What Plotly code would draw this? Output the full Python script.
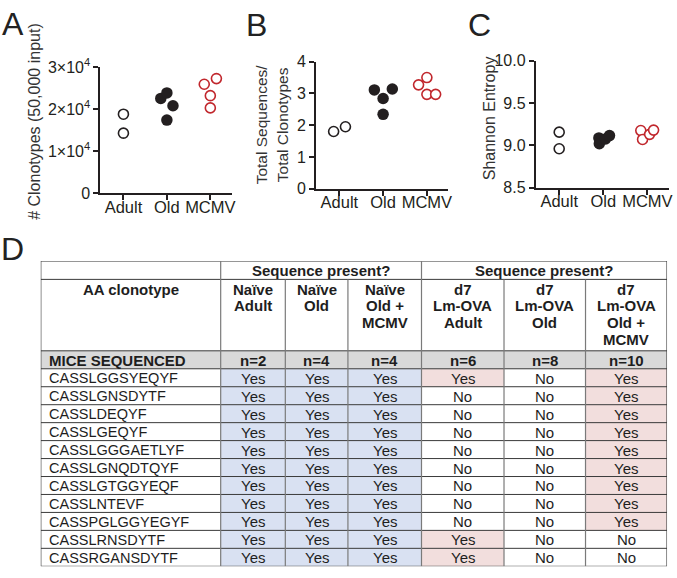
import plotly.graph_objects as go

# ---------------- data ----------------
categories = ["Adult", "Old", "MCMV"]

# Panel A: # clonotypes (50,000 input)
a_adult = [18800, 14300]
a_old = [22550, 23850, 20800, 17400]
a_mcmv = [25900, 27250, 23200, 20300]
a_adult_dx = [0.0, 0.0]
a_old_dx = [-0.14, 0.0, 0.14, 0.0]
a_mcmv_dx = [-0.14, 0.14, 0.0, 0.0]
a_tickvals = [0, 10000, 20000, 30000]
a_ticktext = ["0", "1×10<sup>4</sup>", "2×10<sup>4</sup>", "3×10<sup>4</sup>"]

# Panel B: total sequences / total clonotypes
b_adult = [1.80, 1.95]
b_old = [3.11, 3.14, 2.84, 2.34]
b_mcmv = [3.27, 3.50, 2.97, 2.97]
b_adult_dx = [-0.13, 0.14]
b_old_dx = [-0.20, 0.21, 0.0, 0.0]
b_mcmv_dx = [-0.19, 0.0, 0.0, 0.20]
b_tickvals = [0, 1, 2, 3, 4]
b_ticktext = ["0", "1", "2", "3", "4"]

# Panel C: Shannon entropy
c_adult = [9.156, 8.96]
c_old = [9.088, 9.02, 9.076, 9.115]
c_mcmv = [9.175, 9.07, 9.13, 9.18]
c_adult_dx = [0.0, 0.0]
c_old_dx = [-0.10, -0.09, 0.05, 0.14]
c_mcmv_dx = [-0.15, -0.11, 0.05, 0.14]
c_tickvals = [8.5, 9.0, 9.5, 10.0]
c_ticktext = ["8.5", "9.0", "9.5", "10.0"]

# Panel D: table
group_title = "Sequence present?"
col_headers = ["AA clonotype", "Naïve<br>Adult", "Naïve<br>Old", "Naïve<br>Old +<br>MCMV",
               "d7<br>Lm-OVA<br>Adult", "d7<br>Lm-OVA<br>Old", "d7<br>Lm-OVA<br>Old +<br>MCMV"]
mice_label = "MICE SEQUENCED"
mice_n = ["n=2", "n=4", "n=4", "n=6", "n=8", "n=10"]
clonotypes = ["CASSLGGSYEQYF", "CASSLGNSDYTF", "CASSLDEQYF", "CASSLGEQYF", "CASSLGGGAETLYF",
              "CASSLGNQDTQYF", "CASSLGTGGYEQF", "CASSLNTEVF", "CASSPGLGGYEGYF",
              "CASSLRNSDYTF", "CASSRGANSDYTF"]
naive_adult = ["Yes"] * 11
naive_old = ["Yes"] * 11
naive_old_mcmv = ["Yes"] * 11
d7_adult = ["Yes", "No", "No", "No", "No", "No", "No", "No", "No", "Yes", "Yes"]
d7_old = ["No"] * 11
d7_old_mcmv = ["Yes", "Yes", "Yes", "Yes", "Yes", "Yes", "Yes", "Yes", "Yes", "No", "No"]

# ---------------- layout / style ----------------
W, H = 677, 578
FONT = "Liberation Sans, Arial, sans-serif"
INK = "#231f20"
RED = "#c1272d"
BLUE = "#d9e1f2"
PINK = "#f2dedd"
GRAY = "#d9d9d9"


def fx(p):
    return p / W


def fy(p):
    return 1 - p / H


fig = go.Figure()

panels = [
    dict(ax="", xd=(101, 233), yd=(189, 58), yr=[0, 30000], tv=a_tickvals, tt=a_ticktext,
         data=(a_adult, a_old, a_mcmv), dx=(a_adult_dx, a_old_dx, a_mcmv_dx),
         title="# Clonotypes (50,000 input)", tpos=(34, 114), tsize=16,
         letter="A", lpos=(13, 13)),
    dict(ax="2", xd=(318, 451), yd=(184, 52.5), yr=[0, 4], tv=b_tickvals, tt=b_ticktext,
         data=(b_adult, b_old, b_mcmv), dx=(b_adult_dx, b_old_dx, b_mcmv_dx),
         title="Total Sequences/<br>Total Clonotypes", tpos=(274, 117), tsize=15.5,
         letter="B", lpos=(258, 14)),
    dict(ax="3", xd=(539, 673), yd=(183, 51.5), yr=[8.5, 10], tv=c_tickvals, tt=c_ticktext,
         data=(c_adult, c_old, c_mcmv), dx=(c_adult_dx, c_old_dx, c_mcmv_dx),
         title="Shannon Entropy", tpos=(492, 111), tsize=16,
         letter="C", lpos=(482, 14)),
]

marker_styles = [
    dict(symbol="circle", size=10, color="white", line=dict(color=INK, width=1.6)),
    dict(symbol="circle", size=11.5, color=INK, line=dict(color=INK, width=0)),
    dict(symbol="circle", size=10, color="white", line=dict(color=RED, width=1.6)),
]

annotations = []
for p in panels:
    xa = "x" + p["ax"]
    ya = "y" + p["ax"]
    for gi, (vals, dxs) in enumerate(zip(p["data"], p["dx"])):
        fig.add_trace(go.Scatter(
            x=[gi + d for d in dxs], y=vals, mode="markers",
            marker=marker_styles[gi], xaxis=xa, yaxis=ya,
            showlegend=False, hoverinfo="skip", cliponaxis=False))
    axis_common = dict(showline=True, linecolor=INK, linewidth=2, ticks="outside",
                       ticklen=5, tickwidth=2, tickcolor=INK, showgrid=False,
                       zeroline=False, fixedrange=True)
    fig.update_layout(**{
        "xaxis" + p["ax"]: dict(domain=[fx(p["xd"][0]), fx(p["xd"][1])],
                                 range=[-0.53, 2.49], tickvals=[0, 1, 2],
                                 ticktext=categories, anchor=ya, ticklabelstandoff=-7,
                                 tickfont=dict(family=FONT, size=16.5, color=INK),
                                 **axis_common),
        "yaxis" + p["ax"]: dict(domain=[fy(p["yd"][0]), fy(p["yd"][1])],
                                 range=p["yr"], tickvals=p["tv"], ticktext=p["tt"],
                                 anchor=xa, tickfont=dict(family=FONT, size=16, color=INK),
                                 **axis_common),
    })
    annotations.append(dict(text=p["title"], x=fx(p["tpos"][0]), y=fy(p["tpos"][1]),
                            xref="paper", yref="paper", textangle=-90, showarrow=False,
                            xanchor="center", yanchor="middle",
                            font=dict(family=FONT, size=p["tsize"], color="#333333")))
    annotations.append(dict(text=p["letter"], x=fx(p["lpos"][0]), y=fy(p["lpos"][1]),
                            xref="paper", yref="paper", showarrow=False,
                            xanchor="center", yanchor="middle",
                            font=dict(family=FONT, size=32, color="#222222")))

annotations.append(dict(text="D", x=fx(13), y=fy(247), xref="paper", yref="paper",
                        showarrow=False, xanchor="center", yanchor="middle",
                        font=dict(family=FONT, size=32, color="#222222")))

# ---------------- table (drawn on hidden axes x4/y4) ----------------
col_w = [181, 65, 63, 74, 83, 82, 82]
row_top_h = 19
row_head_h = 74
row_h = 18.6
n_body = 1 + len(clonotypes)
col_edges = [0]
for w in col_w:
    col_edges.append(col_edges[-1] + w)
total_w = col_edges[-1]
body_top = row_top_h + row_head_h
total_h = body_top + n_body * row_h

fig.add_trace(go.Scatter(x=[None], y=[None], xaxis="x4", yaxis="y4",
                         showlegend=False, hoverinfo="skip"))
fig.update_layout(
    xaxis4=dict(domain=[fx(41), fx(671)], range=[0, total_w], visible=False,
                anchor="y4", fixedrange=True),
    yaxis4=dict(domain=[fy(259 + total_h), fy(259)], range=[total_h, 0], visible=False,
                anchor="x4", fixedrange=True),
)

shapes = []
value_cols = [naive_adult, naive_old, naive_old_mcmv, d7_adult, d7_old, d7_old_mcmv]
col_fill = [BLUE, BLUE, BLUE, PINK, PINK, PINK]

shapes.append(dict(type="rect", xref="x4", yref="y4", x0=0, x1=total_w,
                   y0=body_top, y1=body_top + row_h, fillcolor=GRAY, line_width=0, layer="below"))
for ci, vals in enumerate(value_cols):
    for ri, v in enumerate(vals):
        if v == "Yes":
            y0 = body_top + (ri + 1) * row_h
            shapes.append(dict(type="rect", xref="x4", yref="y4",
                               x0=col_edges[ci + 1], x1=col_edges[ci + 2],
                               y0=y0, y1=y0 + row_h, fillcolor=col_fill[ci],
                               line_width=0, layer="below"))

LINE_H = "#3a3a3a"
LINE_V = "#7a7a7a"
h_lines = [0, row_top_h, body_top] + [body_top + (i + 1) * row_h for i in range(n_body)]
for yv in h_lines:
    shapes.append(dict(type="line", xref="x4", yref="y4", x0=0, x1=total_w, y0=yv, y1=yv,
                       line=dict(color=LINE_H, width=1)))
for i, xv in enumerate(col_edges):
    full = i in (0, 1, 4, len(col_edges) - 1)
    y0 = 0 if full else row_top_h
    color = LINE_H if i in (0, len(col_edges) - 1) else LINE_V
    shapes.append(dict(type="line", xref="x4", yref="y4", x0=xv, x1=xv, y0=y0, y1=total_h,
                       line=dict(color=color, width=1.2)))

TXT = "#1e1e1e"
for (a, b) in [(1, 4), (4, 7)]:
    annotations.append(dict(text="<b>" + group_title + "</b>", xref="x4", yref="y4",
                            x=(col_edges[a] + col_edges[b]) / 2, y=row_top_h / 2 + 0.5,
                            showarrow=False, xanchor="center", yanchor="middle",
                            font=dict(family=FONT, size=15, color=TXT)))
line_step = 17.3
for ci, hdr in enumerate(col_headers):
    for li, part in enumerate(hdr.split("<br>")):
        annotations.append(dict(text="<b>" + part + "</b>", xref="x4", yref="y4",
                                x=(col_edges[ci] + col_edges[ci + 1]) / 2,
                                y=row_top_h + 10 + li * line_step,
                                showarrow=False, xanchor="center", yanchor="middle",
                                font=dict(family=FONT, size=15, color=TXT)))
yc = body_top + row_h / 2 + 0.5
annotations.append(dict(text="<b>" + mice_label + "</b>", xref="x4", yref="y4", x=6, y=yc,
                        showarrow=False, xanchor="left", yanchor="middle",
                        font=dict(family=FONT, size=15, color=TXT)))
for ci, n in enumerate(mice_n):
    annotations.append(dict(text="<b>" + n + "</b>", xref="x4", yref="y4",
                            x=(col_edges[ci + 1] + col_edges[ci + 2]) / 2, y=yc,
                            showarrow=False, xanchor="center", yanchor="middle",
                            font=dict(family=FONT, size=15, color=TXT)))
for ri, cl in enumerate(clonotypes):
    yc = body_top + (ri + 1) * row_h + row_h / 2 + 0.5
    annotations.append(dict(text=cl, xref="x4", yref="y4", x=6, y=yc,
                            showarrow=False, xanchor="left", yanchor="middle",
                            font=dict(family=FONT, size=14.5, color=TXT)))
    for ci, vals in enumerate(value_cols):
        annotations.append(dict(text=vals[ri], xref="x4", yref="y4",
                                x=(col_edges[ci + 1] + col_edges[ci + 2]) / 2, y=yc,
                                showarrow=False, xanchor="center", yanchor="middle",
                                font=dict(family=FONT, size=15, color=TXT)))

fig.update_layout(
    width=W, height=H, margin=dict(l=0, r=0, t=0, b=0),
    paper_bgcolor="white", plot_bgcolor="white",
    font=dict(family=FONT, color=INK),
    shapes=shapes, annotations=annotations, showlegend=False,
)

fig.write_html("out.html", config={"displayModeBar": False},
               post_script="document.body.style.margin='0';document.body.style.padding='0';")
